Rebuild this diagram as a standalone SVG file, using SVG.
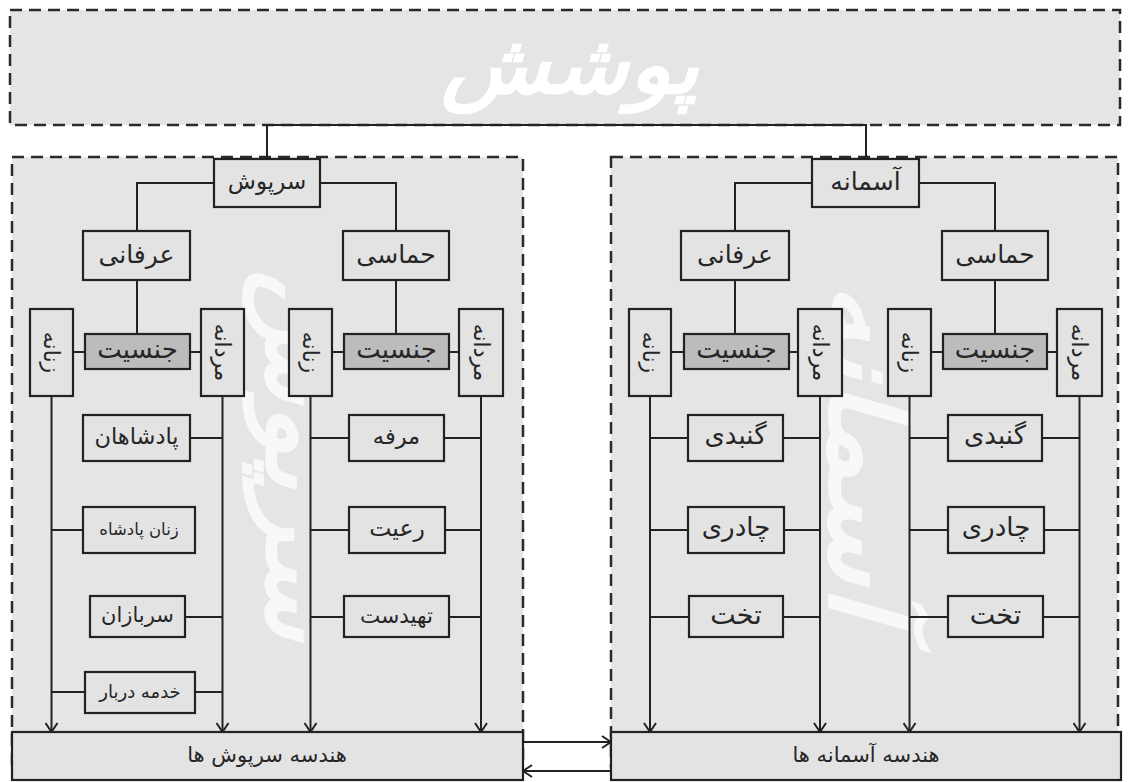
<svg xmlns="http://www.w3.org/2000/svg" width="1128" height="782" viewBox="0 0 1128 782">
<style>
.panel{fill:#e5e5e6;stroke:#2a2a2a;stroke-width:2.5;stroke-dasharray:12 7}
.box{fill:#e3e3e4;stroke:#222;stroke-width:2.2}
.dark{fill:#bcbcbc;stroke:#222;stroke-width:2.2}
.t{font-family:"DejaVu Sans","Noto Sans",sans-serif;fill:#262626;text-anchor:middle;dominant-baseline:central;direction:rtl}
.wm{font-family:"DejaVu Sans","Noto Sans",sans-serif;font-weight:bold;font-style:italic;fill:#ffffff;text-anchor:middle;dominant-baseline:central;direction:rtl}
.ln{fill:none;stroke:#222;stroke-width:2}
.ar{fill:none;stroke:#222;stroke-width:2;marker-end:url(#arr)}
</style>
<defs>
<marker id="arr" markerUnits="userSpaceOnUse" markerWidth="14" markerHeight="14" refX="11" refY="7" orient="auto">
<path d="M2,1 L11,7 L2,13" fill="none" stroke="#222" stroke-width="2"/>
</marker>
</defs>
<rect width="1128" height="782" fill="#ffffff"/>
<g id="top">
<rect class="panel" x="10" y="10" width="1110" height="115"/>
<text class="wm" x="570" y="64" font-size="82" textLength="258" lengthAdjust="spacingAndGlyphs">پوشش</text>
</g>
<g id="panel-left">
<rect class="panel" x="12" y="157" width="511" height="610"/>
<text class="wm" x="0" y="0" font-size="96" opacity="0.75" textLength="370" lengthAdjust="spacingAndGlyphs" transform="translate(300,455) rotate(90)">سرپوش</text>
</g>
<g id="panel-right">
<rect class="panel" x="611" y="157" width="507" height="610"/>
<text class="wm" x="0" y="0" font-size="104" opacity="0.75" textLength="335" lengthAdjust="spacingAndGlyphs" transform="translate(866,450) rotate(90)">آسمانه</text>
</g>
<g id="connectors">
<path class="ln" d="M267,159 V125 H866 V159"/>
<path class="ln" d="M137,231 V183 H214 M320,183 H396 V231"/>
<path class="ln" d="M137,280 V334 M396,280 V334"/>
<path class="ln" d="M73,352 H85 M190,352 H201 M332,352 H344 M449,352 H459"/>
<path class="ar" d="M51.5,396 V732"/>
<path class="ar" d="M222.5,396 V732"/>
<path class="ar" d="M310.5,396 V732"/>
<path class="ar" d="M481,396 V732"/>
<path class="ln" d="M190,438 H222.5 M51.5,530 H83 M185,617 H222.5 M51.5,692 H85 M195,692 H222.5"/>
<path class="ln" d="M310.5,438 H349 M444,438 H481 M310.5,530 H349 M445,530 H481 M310.5,617 H344 M449,617 H481"/>
<path class="ln" d="M735,231 V183 H812 M919,183 H995 V231"/>
<path class="ln" d="M735,280 V334 M995,280 V334"/>
<path class="ln" d="M671,352 H684 M789,352 H798 M931,352 H943 M1047,352 H1057"/>
<path class="ar" d="M650,396 V732"/>
<path class="ar" d="M820,396 V732"/>
<path class="ar" d="M909.5,396 V732"/>
<path class="ar" d="M1079.5,396 V732"/>
<path class="ln" d="M650,438 H688 M783,438 H820 M650,530 H688 M784,530 H820 M650,617 H689 M783,617 H820"/>
<path class="ln" d="M909.5,438 H948 M1042,438 H1079.5 M909.5,530 H948 M1044,530 H1079.5 M909.5,617 H948 M1043,617 H1079.5"/>
<path class="ar" d="M523,742 H611"/>
<path class="ar" d="M611,771 H523"/>
</g>
<g id="n-sarpoosh"><rect class="box" x="214" y="159" width="106" height="48"/><text class="t" x="267" y="181" font-size="23">سرپوش</text></g>
<g id="n-erfani-l"><rect class="box" x="83" y="231" width="107" height="49"/><text class="t" x="136.5" y="254" font-size="25">عرفانی</text></g>
<g id="n-hamasi-l"><rect class="box" x="343" y="231" width="106" height="49"/><text class="t" x="396" y="254" font-size="25">حماسی</text></g>
<g id="n-jensiat-l1"><rect class="dark" x="85" y="334" width="105" height="35"/><text class="t" x="137.5" y="349" font-size="26">جنسیت</text></g>
<g id="n-zanane-l1"><rect class="box" x="30" y="309" width="43" height="87"/><text class="t" x="0" y="0" font-size="22" transform="translate(51.5,352.5) rotate(90)">زنانه</text></g>
<g id="n-mardane-l1"><rect class="box" x="201" y="309" width="43" height="87"/><text class="t" x="0" y="0" font-size="22" transform="translate(222.5,352.5) rotate(90)">مردانه</text></g>
<g id="n-zanane-l2"><rect class="box" x="289" y="309" width="43" height="87"/><text class="t" x="0" y="0" font-size="22" transform="translate(310.5,352.5) rotate(90)">زنانه</text></g>
<g id="n-jensiat-l2"><rect class="dark" x="344" y="334" width="105" height="35"/><text class="t" x="396.5" y="349" font-size="26">جنسیت</text></g>
<g id="n-mardane-l2"><rect class="box" x="459" y="309" width="44" height="87"/><text class="t" x="0" y="0" font-size="22" transform="translate(481,352.5) rotate(90)">مردانه</text></g>
<g id="n-padeshahan"><rect class="box" x="83" y="415" width="107" height="46"/><text class="t" x="136.5" y="436" font-size="22.5">پادشاهان</text></g>
<g id="n-zanan-padeshah"><rect class="box" x="83" y="507" width="112" height="46"/><text class="t" x="139" y="529" font-size="16.5">زنان پادشاه</text></g>
<g id="n-sarbazan"><rect class="box" x="90" y="596" width="95" height="41"/><text class="t" x="137.5" y="615" font-size="21">سربازان</text></g>
<g id="n-khadame"><rect class="box" x="85" y="672" width="110" height="41"/><text class="t" x="140" y="691" font-size="18">خدمه دربار</text></g>
<g id="n-morafah"><rect class="box" x="349" y="415" width="95" height="46"/><text class="t" x="396.5" y="436" font-size="22.5">مرفه</text></g>
<g id="n-raiat"><rect class="box" x="349" y="507" width="96" height="46"/><text class="t" x="397" y="528" font-size="23.5">رعیت</text></g>
<g id="n-tohidast"><rect class="box" x="344" y="596" width="105" height="41"/><text class="t" x="396.5" y="615" font-size="21.5">تهیدست</text></g>
<g id="n-bottom-l"><rect class="box" x="12" y="732" width="511" height="48"/><text class="t" x="267" y="755" font-size="21">هندسه سرپوش ها</text></g>
<g id="n-asmane"><rect class="box" x="812" y="159" width="107" height="48"/><text class="t" x="865.5" y="181" font-size="25">آسمانه</text></g>
<g id="n-erfani-r"><rect class="box" x="681" y="231" width="108" height="49"/><text class="t" x="735" y="254" font-size="25">عرفانی</text></g>
<g id="n-hamasi-r"><rect class="box" x="942" y="231" width="106" height="49"/><text class="t" x="995" y="254" font-size="25">حماسی</text></g>
<g id="n-jensiat-r1"><rect class="dark" x="684" y="334" width="105" height="35"/><text class="t" x="736.5" y="349" font-size="26">جنسیت</text></g>
<g id="n-zanane-r1"><rect class="box" x="629" y="309" width="42" height="87"/><text class="t" x="0" y="0" font-size="22" transform="translate(650,352.5) rotate(90)">زنانه</text></g>
<g id="n-mardane-r1"><rect class="box" x="798" y="309" width="44" height="87"/><text class="t" x="0" y="0" font-size="22" transform="translate(820,352.5) rotate(90)">مردانه</text></g>
<g id="n-zanane-r2"><rect class="box" x="888" y="309" width="43" height="87"/><text class="t" x="0" y="0" font-size="22" transform="translate(909.5,352.5) rotate(90)">زنانه</text></g>
<g id="n-jensiat-r2"><rect class="dark" x="943" y="334" width="104" height="35"/><text class="t" x="995" y="349" font-size="26">جنسیت</text></g>
<g id="n-mardane-r2"><rect class="box" x="1057" y="309" width="45" height="87"/><text class="t" x="0" y="0" font-size="22" transform="translate(1079.5,352.5) rotate(90)">مردانه</text></g>
<g id="n-gonbadi-r1"><rect class="box" x="688" y="415" width="95" height="46"/><text class="t" x="735.5" y="435" font-size="26">گنبدی</text></g>
<g id="n-chadori-r1"><rect class="box" x="688" y="507" width="96" height="46"/><text class="t" x="736" y="527" font-size="26">چادری</text></g>
<g id="n-takht-r1"><rect class="box" x="689" y="596" width="94" height="41"/><text class="t" x="736" y="614" font-size="27">تخت</text></g>
<g id="n-gonbadi-r2"><rect class="box" x="948" y="415" width="94" height="46"/><text class="t" x="995" y="435" font-size="26">گنبدی</text></g>
<g id="n-chadori-r2"><rect class="box" x="948" y="507" width="96" height="46"/><text class="t" x="996" y="527" font-size="26">چادری</text></g>
<g id="n-takht-r2"><rect class="box" x="948" y="596" width="95" height="41"/><text class="t" x="995.5" y="614" font-size="27">تخت</text></g>
<g id="n-bottom-r"><rect class="box" x="611" y="732" width="510" height="48"/><text class="t" x="866" y="755" font-size="21">هندسه آسمانه ها</text></g>
</svg>
